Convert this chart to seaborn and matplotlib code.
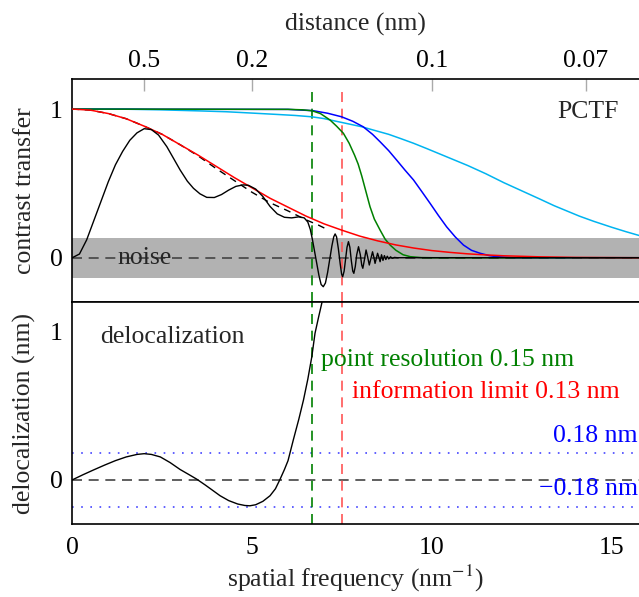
import numpy as np
import pandas as pd
import matplotlib
matplotlib.use("Agg")
import matplotlib.pyplot as plt
import seaborn as sns

# ---- data ----
# phase contrast transfer function (black)
pctf_freq = [0, 0.2, 0.4, 0.6, 0.8, 1.0, 1.2, 1.4, 1.6, 1.8, 2.0, 2.2, 2.4, 2.63,
             2.8, 3.0, 3.2, 3.37, 3.55, 3.74, 3.95, 4.15, 4.35, 4.55, 4.75, 4.9,
             5.1, 5.3, 5.5, 5.7, 5.9, 6.1, 6.3, 6.45, 6.55, 6.62, 6.68, 6.74,
             6.80, 6.86, 6.92, 6.98, 7.04, 7.10, 7.16, 7.22, 7.27, 7.31, 7.35,
             7.40, 7.45, 7.49, 7.52, 7.56, 7.60, 7.64, 7.68, 7.72, 7.76, 7.80,
             7.83, 7.87, 7.91, 7.96, 8.01, 8.05, 8.08, 8.12, 8.17, 8.21, 8.26,
             8.30, 8.35, 8.39, 8.42, 8.46, 8.49, 8.53, 8.56, 8.60, 8.64, 8.68,
             8.72, 8.76, 8.80, 8.85, 8.90, 8.96, 9.04, 15.8]
pctf_vals = [0, 0.025, 0.12, 0.25, 0.38, 0.51, 0.625, 0.715, 0.79, 0.84, 0.868,
             0.862, 0.825, 0.747, 0.675, 0.59, 0.515, 0.467, 0.43, 0.406, 0.405,
             0.425, 0.455, 0.48, 0.49, 0.487, 0.462, 0.412, 0.345, 0.295, 0.272,
             0.268, 0.275, 0.268, 0.24, 0.19, 0.12, 0.04, -0.04, -0.12, -0.18,
             -0.195, -0.17, -0.10, -0.01, 0.08, 0.14, 0.16, 0.14, 0.06, -0.04,
             -0.11, -0.128, -0.09, -0.01, 0.07, 0.108, 0.07, -0.02, -0.09,
             -0.105, -0.06, 0.02, 0.074, 0.02, -0.05, -0.071, -0.02, 0.052, 0.01,
             -0.049, -0.01, 0.04, 0.0, -0.038, 0.0, 0.03, 0.0, -0.027, 0.02,
             -0.018, 0.014, -0.012, 0.01, -0.008, 0.006, -0.004, 0.002, 0, 0]

# damping envelope of the pctf (black dashed)
env_freq = [0, 0.5, 1.0, 1.5, 2.0, 2.5, 3.0, 3.5, 4.0, 4.5, 5.0, 5.5, 6.0, 6.5,
            6.84, 7.05]
env_vals = [1.0, 0.993, 0.97, 0.935, 0.885, 0.83, 0.76, 0.685, 0.60, 0.52, 0.44,
            0.37, 0.315, 0.255, 0.22, 0.195]

# envelopes (red, green, blue, cyan)
red_freq = [0, 0.5, 1.0, 1.5, 2.0, 2.5, 3.0, 3.5, 4.0, 4.5, 5.0, 5.5, 6.0, 6.5,
            7.0, 7.5, 8.0, 8.5, 9.0, 9.5, 10.0, 10.5, 11.0, 11.5, 12.0, 13.0,
            14.0, 15.8]
red_vals = [1.0, 0.993, 0.97, 0.935, 0.885, 0.83, 0.76, 0.69, 0.615, 0.54, 0.47,
            0.40, 0.34, 0.28, 0.228, 0.185, 0.145, 0.113, 0.086, 0.065, 0.048,
            0.036, 0.026, 0.019, 0.013, 0.006, 0.002, 0]

green_freq = [0, 6.0, 6.4, 6.66, 6.9, 7.17, 7.35, 7.54, 7.7, 7.85, 7.95, 8.05,
              8.15, 8.28, 8.4, 8.56, 8.7, 8.84, 9.0, 9.2, 9.4, 9.7, 10.0, 15.8]
green_vals = [1, 0.998, 0.995, 0.989, 0.97, 0.926, 0.885, 0.837, 0.77, 0.69,
              0.63, 0.55, 0.46, 0.343, 0.26, 0.186, 0.125, 0.085, 0.05, 0.02,
              0.007, 0.001, 0, 0]

blue_freq = [0, 6.0, 6.7, 7.1, 7.49, 7.8, 8.09, 8.35, 8.56, 8.8, 9.02, 9.25,
             9.49, 9.72, 9.95, 10.18, 10.41, 10.65, 10.88, 11.1, 11.34, 11.6,
             11.8, 12.3, 15.8]
blue_vals = [1, 0.998, 0.989, 0.972, 0.948, 0.918, 0.881, 0.83, 0.78, 0.72,
             0.657, 0.59, 0.523, 0.445, 0.366, 0.285, 0.208, 0.14, 0.085, 0.05,
             0.03, 0.014, 0.007, 0, 0]

cyan_freq = [0, 1.5, 2.44, 3.5, 4.29, 5.0, 5.69, 6.2, 6.66, 7.0, 7.3, 7.65, 8.05,
             8.4, 8.8, 9.15, 9.49, 9.85, 10.2, 10.6, 11.0, 11.5, 12.0, 12.5,
             13.0, 13.4, 13.75, 14.1, 14.5, 15.0, 15.4, 15.8]
cyan_vals = [1, 0.999, 0.995, 0.988, 0.982, 0.973, 0.964, 0.957, 0.948, 0.936,
             0.92, 0.902, 0.881, 0.857, 0.83, 0.80, 0.77, 0.735, 0.70, 0.66,
             0.62, 0.565, 0.505, 0.45, 0.395, 0.35, 0.315, 0.28, 0.245, 0.205,
             0.175, 0.147]

# delocalization (bottom panel)
deloc_freq = [0, 0.3, 0.6, 0.9, 1.2, 1.5, 1.8, 2.0, 2.2, 2.45, 2.72, 3.0, 3.25,
              3.46, 3.7, 3.9, 4.11, 4.35, 4.6, 4.8, 4.94, 5.1, 5.3, 5.5, 5.65,
              5.78, 5.9, 6.0, 6.15, 6.3, 6.43, 6.55, 6.66, 6.75, 6.85, 6.94,
              7.05]
deloc_vals = [0, 0.035, 0.068, 0.10, 0.13, 0.155, 0.172, 0.177, 0.172, 0.155,
              0.117, 0.07, 0.035, 0.005, -0.035, -0.07, -0.107, -0.14, -0.163,
              -0.173, -0.175, -0.168, -0.145, -0.107, -0.06, 0.005, 0.07, 0.13,
              0.273, 0.41, 0.54, 0.68, 0.83, 0.99, 1.1, 1.195, 1.35]

point_res = 0.15       # nm
info_limit_freq = 7.5  # nm^-1 (info limit 0.13 nm)
noise_level = 0.134
deloc_limit = 0.18

top_tick_dist = [0.5, 0.2, 0.1, 0.07]
top_tick_labels = ["0.5", "0.2", "0.1", "0.07"]
bottom_ticks = [0, 5, 10, 15]

# ---- style ----
sns.set_theme(style="white")
plt.rcParams["font.family"] = ["Liberation Serif", "DejaVu Serif"]
plt.rcParams["mathtext.fontset"] = "stix"
FS = 18.5
plt.rcParams["font.size"] = FS

XMAX = 15.76
tick_kw = dict(direction="in", length=8.5, width=1, color="#aaaaaa",
               labelcolor="black", labelsize=FS)

fig = plt.figure(figsize=(6.39, 5.97), dpi=100)
ax1 = fig.add_axes([0.1131, 0.4936, 0.8869, 0.3735])
ax2 = fig.add_axes([0.1131, 0.1218, 0.8869, 0.3719])

for ax in (ax1, ax2):
    ax.set_xlim(0, XMAX)
    ax.set_ylim(-0.3, 1.2)
    ax.spines["right"].set_visible(False)
    for s in ("left", "top", "bottom"):
        ax.spines[s].set_color("black")
        ax.spines[s].set_linewidth(1.2)
    ax.set_yticks([0, 1])
    ax.set_yticklabels(["0", "1"])
    ax.tick_params(axis="y", pad=7, **tick_kw)

# ---- top panel ----
ax1.axhspan(-noise_level, noise_level, color="#b2b2b2", lw=0, zorder=0)
ax1.axhline(0, color="#444444", lw=1.2, dashes=(6, 4), zorder=1)

pf = 1 / point_res
ax1.plot([pf, pf], [-0.3, 1.14], color="green", lw=1.2, dashes=(6, 4), zorder=2)
ax1.plot([info_limit_freq, info_limit_freq], [-0.3, 1.14], color="#ff5555",
         lw=1.2, dashes=(6, 4), zorder=2)

curves = [
    (cyan_freq, cyan_vals, "#00b4f0"),
    (blue_freq, blue_vals, "blue"),
    (green_freq, green_vals, "green"),
    (red_freq, red_vals, "red"),
]
for fx, fy, col in curves:
    sns.lineplot(x=fx, y=fy, ax=ax1, color=col, lw=1.1, estimator=None,
                 sort=False, zorder=4)
sns.lineplot(x=env_freq, y=env_vals, ax=ax1, color="black", lw=1.0,
             estimator=None, sort=False, zorder=3).lines[-1].set_dashes((5, 4))
sns.lineplot(x=pctf_freq, y=pctf_vals, ax=ax1, color="black", lw=1.0,
             estimator=None, sort=False, zorder=5)

ax1.text(1.25, 0.0, "noise", ha="left", va="center", fontsize=FS, zorder=6)
ax1.text(15.2, 0.98, "PCTF", ha="right", va="center", fontsize=FS)
ax1.set_ylabel("contrast transfer", fontsize=FS, labelpad=10)

ax1.set_xticks([1 / d for d in top_tick_dist])
ax1.set_xticklabels(top_tick_labels)
ax1.tick_params(axis="x", top=True, labeltop=True, bottom=False,
                labelbottom=False, pad=5, **tick_kw)
ax1.xaxis.set_label_position("top")
ax1.set_xlabel("distance (nm)", fontsize=FS, labelpad=14)

# ---- bottom panel ----
ax2.axhline(0, color="#444444", lw=1.2, dashes=(6, 4), zorder=1)
for lvl in (deloc_limit, -deloc_limit):
    ax2.axhline(lvl, color="#4444ff", lw=1.2, ls=(0, (1, 4.5)), zorder=1)
ax2.axvline(pf, color="green", lw=1.2, dashes=(6, 4), zorder=2)
ax2.axvline(info_limit_freq, color="#ff5555", lw=1.2, dashes=(6, 4), zorder=2)

sns.lineplot(x=deloc_freq, y=deloc_vals, ax=ax2, color="black", lw=1.0,
             estimator=None, sort=False, zorder=5)

ax2.text(0.77, 0.966, "delocalization", ha="left", va="center", fontsize=FS)
ax2.text(6.91, 0.81, "point resolution 0.15 nm", color="green", ha="left",
         va="center", fontsize=FS)
ax2.text(7.77, 0.597, "information limit 0.13 nm", color="red", ha="left",
         va="center", fontsize=FS)
ax2.text(15.72, 0.295, "0.18 nm", color="blue", ha="right", va="center", fontsize=FS)
ax2.text(15.72, -0.062, "\u22120.18 nm", color="blue", ha="right", va="center",
         fontsize=FS)

ax2.set_xticks(bottom_ticks)
ax2.set_xticklabels([str(t) for t in bottom_ticks])
ax2.tick_params(axis="x", pad=9, **tick_kw)
ax2.set_xlabel("spatial frequency (nm$^{-1}$)", fontsize=FS, labelpad=3)
ax2.set_ylabel("delocalization (nm)", fontsize=FS, labelpad=10)

fig.savefig("out.png", dpi=100)
